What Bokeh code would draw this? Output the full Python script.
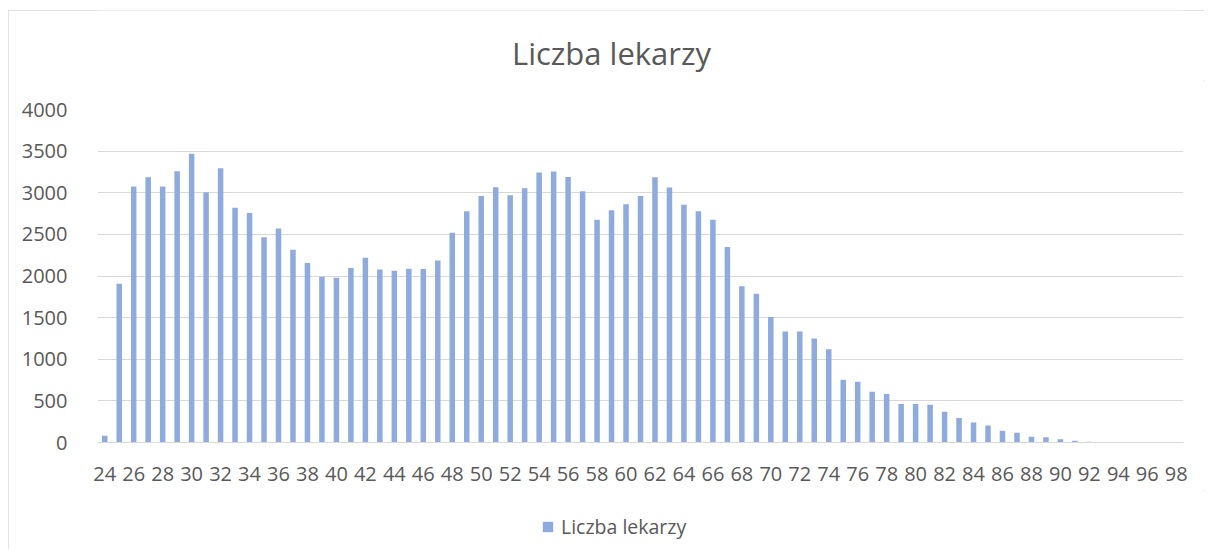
from bokeh.plotting import figure
from bokeh.layouts import column
from bokeh.models import Range1d, FixedTicker, Legend, LegendItem, Label
from bokeh.embed import file_html
from bokeh.resources import INLINE

ages = list(range(24, 99))
counts = [80, 1906, 3074, 3186, 3074, 3258, 3467, 3006, 3295, 2821,
          2757, 2464, 2572, 2315, 2155, 1990, 1978, 2095, 2219, 2079,
          2063, 2087, 2083, 2187, 2520, 2777, 2961, 3066, 2970, 3054,
          3242, 3254, 3190, 3018, 2677, 2789, 2861, 2961, 3186, 3062,
          2857, 2777, 2677, 2348, 1878, 1786, 1509, 1332, 1332, 1248,
          1120, 754, 730, 610, 582, 461, 461, 453, 369, 293,
          241, 205, 140, 116, 68, 64, 40, 20,
          8, 5, 3, 2, 1, 1, 1]
x_ticks = ages[::2]
y_ticks = [0, 500, 1000, 1500, 2000, 2500, 3000, 3500, 4000]
series_name = "Liczba lekarzy"
title_text = "Liczba lekarzy"

FONT = "Open Sans"
TXT = "#595959"
GRID = "#D9D9D9"
BAR = "#8FAADC"


def strip(height):
    s = figure(width=1196, height=height, output_backend="svg",
               toolbar_location=None,
               x_range=Range1d(0, 1), y_range=Range1d(0, 1),
               x_axis_type=None, y_axis_type=None,
               min_border_left=0, min_border_right=0,
               min_border_top=0, min_border_bottom=0)
    s.outline_line_color = None
    s.grid.visible = False
    s.background_fill_color = "white"
    s.border_fill_color = "white"
    return s


# title strip
pt = strip(70)
pt.add_layout(Label(x=514, y=28, x_units="screen", y_units="screen",
                    text=title_text, text_align="center",
                    text_baseline="alphabetic", text_font=FONT,
                    text_font_size="31px", text_color=TXT))

# main chart
p = figure(width=1196, height=410, output_backend="svg", toolbar_location=None,
           x_range=Range1d(ages[0] - 0.5, ages[-1] + 0.5),
           y_range=Range1d(y_ticks[0], y_ticks[-1]),
           min_border_left=89, min_border_right=21,
           min_border_top=29, min_border_bottom=48)
p.outline_line_color = None
p.background_fill_color = "white"
p.border_fill_color = "white"

r = p.vbar(x=ages, top=counts, width=0.38, fill_color=BAR, line_color=None)

p.xgrid.grid_line_color = None
p.ygrid.grid_line_color = GRID
p.ygrid.grid_line_width = 1
p.ygrid.ticker = FixedTicker(ticks=y_ticks)

p.yaxis.ticker = FixedTicker(ticks=y_ticks)
p.yaxis.axis_line_color = None
p.yaxis.major_tick_line_color = None
p.yaxis.minor_tick_line_color = None
p.yaxis.major_label_standoff = 24
p.yaxis.major_label_text_font = FONT
p.yaxis.major_label_text_font_size = "20px"
p.yaxis.major_label_text_color = TXT

p.xaxis.ticker = FixedTicker(ticks=x_ticks)
p.xaxis.axis_line_color = GRID
p.xaxis.axis_line_width = 1
p.xaxis.major_tick_line_color = None
p.xaxis.minor_tick_line_color = None
p.xaxis.major_label_standoff = 18
p.xaxis.major_label_text_font = FONT
p.xaxis.major_label_text_font_size = "20px"
p.xaxis.major_label_text_color = TXT

# legend strip (its swatch renderer lies outside the strip's view)
pl = strip(59)
r_leg = pl.quad(left=[ages[0]], right=[ages[0] + 0.38], bottom=[0],
                top=[counts[0]], fill_color=BAR, line_color=None)
legend = Legend(items=[LegendItem(label=series_name, renderers=[r_leg])],
                location=(444, 9), orientation="horizontal",
                padding=5, margin=0, border_line_color=None,
                background_fill_alpha=0,
                glyph_width=13, glyph_height=13, label_standoff=7,
                label_text_font=FONT, label_text_font_size="19.5px",
                label_text_color=TXT)
pl.add_layout(legend, "center")

layout = column(pt, p, pl, spacing=0)
layout.styles = {"outline": "1px solid #D9D9D9", "outline-offset": "-1px",
                 "margin-left": "8px", "margin-top": "10px"}

open("out.html", "w").write(file_html(layout, INLINE))
